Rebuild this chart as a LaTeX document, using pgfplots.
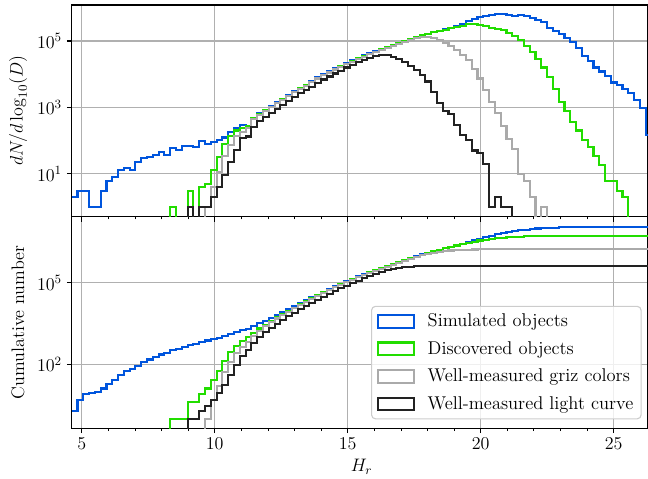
\RequirePackage{fix-cm}
\documentclass[border=0pt]{standalone}
\usepackage{pgfplots}
\usepackage{pgfplotstable}
\pgfplotsset{compat=1.18}

\definecolor{simblue}{RGB}{0,85,221}
\definecolor{discgreen}{RGB}{34,221,0}
\definecolor{colgray}{RGB}{170,170,170}
\definecolor{lcblack}{RGB}{34,34,34}
\definecolor{gridgray}{RGB}{176,176,176}
\definecolor{legframe}{RGB}{204,204,204}

% counts per bin; bin k spans H = 4.62 + 0.218 k ... 4.62 + 0.218 (k+1)
\pgfplotstableread{
k blue green gray black
0 2 0 0 0
1 3 0 0 0
2 3 0 0 0
3 1 0 0 0
4 1 0 0 0
5 3 0 0 0
6 6 0 0 0
7 8 0 0 0
8 13 0 0 0
9 15 0 0 0
10 13 0 0 0
11 22 0 0 0
12 29 0 0 0
13 32 0 0 0
14 36 0 0 0
15 44 0 0 0
16 36 0 0 0
17 58 1 0 0
18 51 0 0 0
19 69 0 0 0
20 69 3 0 1
21 65 0 0 0
22 95 4 0 1
23 81 5 1 1
24 91 13 4 2
25 105 32 11 4
26 123 80 35 9
27 186 140 72 23
28 234 200 140 51
29 295 240 185 117
30 275 265 240 132
31 483 465 447 263
32 651 627 603 398
33 858 826 794 525
34 1080 1040 1000 692
35 1423 1371 1318 912
36 1793 1726 1660 1175
37 2309 2224 2138 1514
38 3043 2931 2818 1995
39 3921 3776 3631 2630
40 4824 4646 4467 3311
41 6214 5984 5754 4169
42 8006 7710 7413 5370
43 10080 9706 9333 6918
44 12118 11669 11220 8511
45 14908 14356 13804 10471
46 17924 17260 16596 12589
47 21549 20751 19953 15849
48 25907 24948 23988 19055
49 31147 29994 28840 22909
50 36595 35239 33884 27542
51 42996 41403 39811 31623
52 49366 47537 45709 34674
53 57999 55851 53703 37154
54 66593 64126 61660 37154
55 76459 73627 70795 33113
56 89830 86503 83176 28184
57 103139 99319 95499 22909
58 117000 114815 109648 17378
59 134000 131826 123027 13183
60 151000 147911 131826 9550
61 165000 162181 134896 6026
62 186000 181970 125893 2818
63 204000 199526 107152 1318
64 223000 218776 89125 759
65 246000 239883 70795 631
66 281838 263027 52481 302
67 331131 281838 38019 151
68 398107 316228 26303 105
69 457088 323594 14125 50
70 524807 301995 7413 42
71 575440 281838 3311 20
72 616595 251189 1413 1
73 660693 229087 661 2
74 630957 208930 282 1
75 616595 177828 112 1
76 562341 141254 56 0
77 602560 109648 10 0
78 549541 70795 6 0
79 478630 47863 2 0
80 436516 28184 0 0
81 363078 15849 1 0
82 251189 8318 0 0
83 199526 3548 0 0
84 165959 1479 0 0
85 120226 794 0 0
86 91201 355 0 0
87 60256 200 0 0
88 35481 102 0 0
89 25119 63 0 0
90 15849 35 0 0
91 12023 18 0 0
92 8913 6 0 0
93 5623 6 0 0
94 4571 3 0 0
95 3467 2 0 0
96 2754 0 0 0
97 1660 0 0 0
98 933 0 0 0
99 148 0 0 0
100 0 0 0 0
}\hist

\pgfkeys{/pgf/fpu=true,/pgf/fpu/output format=sci}
\pgfplotstablecreatecol[create col/expr accum={\pgfmathaccuma+\thisrow{blue}}{0}]{cblue}\hist
\pgfplotstablecreatecol[create col/expr accum={\pgfmathaccuma+\thisrow{green}}{0}]{cgreen}\hist
\pgfplotstablecreatecol[create col/expr accum={\pgfmathaccuma+\thisrow{gray}}{0}]{cgray}\hist
\pgfplotstablecreatecol[create col/expr accum={\pgfmathaccuma+\thisrow{black}}{0}]{cblack}\hist
\pgfkeys{/pgf/fpu=false}

\begin{document}
\begin{tikzpicture}
\begin{axis}[name=bot, at={(0,0)}, anchor=south west,
    scale only axis, width=414.9pt, height=152.4pt,
    xmin=4.62, xmax=26.29, ymode=log,
    xtick={5,10,15,20,25}, minor x tick num=4,
    yminorticks=false,
    tick align=outside, tick pos=left,
    major tick length=3.5pt, minor tick length=2pt,
    major tick style={line width=0.8pt, black},
    minor tick style={line width=0.6pt, black},
    grid=major, major grid style={gridgray, line width=0.8pt},
    axis line style={line width=0.8pt, black},
    tick label style={font=\fontsize{13}{15}\selectfont},
    label style={font=\fontsize{13}{15}\selectfont},
    ylabel style={at={(axis description cs:-0.093,0.5)}, anchor=center},
    ymin=0.444, ymax=2.67e7, ytick={100,100000},
    ylabel={Cumulative number},
    xlabel={$H_r$},
    xlabel style={at={(axis description cs:0.503,0)}, anchor=center, yshift=-27.6pt},
    legend cell align=left,
    legend style={at={(axis description cs:0.989,0.0425)}, anchor=south east,
      draw=legframe, line width=0.8pt, rounded corners=2.8pt, fill=white,
      fill opacity=0.8, text opacity=1, draw opacity=1,
      font=\fontsize{13.3}{15}\selectfont, inner xsep=3pt, inner ysep=2.8pt, row sep=4.1pt,
      nodes={inner xsep=2.6pt, inner ysep=2.5pt}},
    legend image code/.code={\draw[#1, line width=1.5pt, sharp corners] (0pt,-4.6pt) rectangle (26pt,4.6pt);
      \path (-0.8pt,0pt) (32.5pt,0pt);},
  ]
  \addplot[simblue, const plot, line width=1.5pt] table[x expr=4.62+0.218*\thisrow{k}, y expr=\thisrow{cblue}+0.001]{\hist};
  \addlegendentry{Simulated objects}
  \addplot[discgreen, const plot, line width=1.5pt] table[x expr=4.62+0.218*\thisrow{k}, y expr=\thisrow{cgreen}+0.001]{\hist};
  \addlegendentry{Discovered objects}
  \addplot[colgray, const plot, line width=1.5pt] table[x expr=4.62+0.218*\thisrow{k}, y expr=\thisrow{cgray}+0.001]{\hist};
  \addlegendentry{Well-measured griz colors}
  \addplot[lcblack, const plot, line width=1.5pt] table[x expr=4.62+0.218*\thisrow{k}, y expr=\thisrow{cblack}+0.001]{\hist};
  \addlegendentry{Well-measured light curve}
\end{axis}
\begin{axis}[name=top, at={(bot.north west)}, anchor=south west,
    scale only axis, width=414.9pt, height=152.4pt,
    xmin=4.62, xmax=26.29, ymode=log,
    xtick={5,10,15,20,25}, minor x tick num=4,
    yminorticks=false,
    tick align=outside, tick pos=left,
    major tick length=3.5pt, minor tick length=2pt,
    major tick style={line width=0.8pt, black},
    minor tick style={line width=0.6pt, black},
    grid=major, major grid style={gridgray, line width=0.8pt},
    axis line style={line width=0.8pt, black},
    tick label style={font=\fontsize{13}{15}\selectfont},
    label style={font=\fontsize{13}{15}\selectfont},
    ylabel style={at={(axis description cs:-0.093,0.5)}, anchor=center},
    ymin=0.506, ymax=1.217e6, ytick={10,1000,100000},
    xticklabels={},
    ylabel={$dN/d\log_{10}(D)$},
  ]
  \addplot[simblue, const plot, line width=1.5pt] table[x expr=4.62+0.218*\thisrow{k}, y expr=\thisrow{blue}+0.001]{\hist};
  \addplot[discgreen, const plot, line width=1.5pt] table[x expr=4.62+0.218*\thisrow{k}, y expr=\thisrow{green}+0.001]{\hist};
  \addplot[colgray, const plot, line width=1.5pt] table[x expr=4.62+0.218*\thisrow{k}, y expr=\thisrow{gray}+0.001]{\hist};
  \addplot[lcblack, const plot, line width=1.5pt] table[x expr=4.62+0.218*\thisrow{k}, y expr=\thisrow{black}+0.001]{\hist};
\end{axis}
\pgfresetboundingbox
\path[use as bounding box] (-51.6pt,-35.8pt) rectangle (414.9pt,308.4pt);
\end{tikzpicture}
\end{document}
